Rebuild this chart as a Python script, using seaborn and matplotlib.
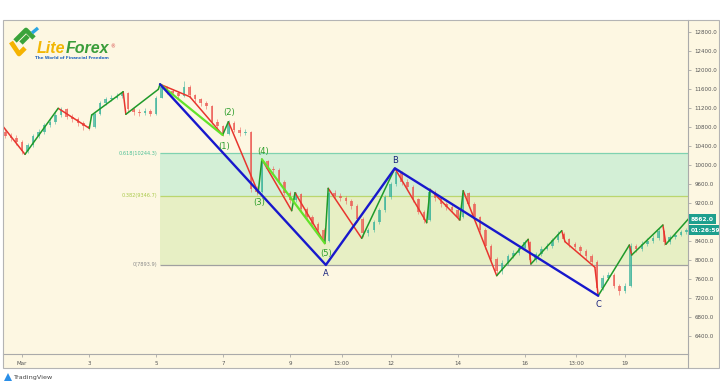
import matplotlib
matplotlib.use("Agg")
import matplotlib.pyplot as plt
from matplotlib.patches import Rectangle, Polygon
import pandas as pd
import seaborn as sns

# ---- data: 4h candles, x in days of March (1 = Mar 1) ----
first_open = 10700
closes = [10620, 10560, 10480, 10300, 10420, 10610, 10700, 10840, 10900, 11060,
          11180, 11020, 10960, 10890, 10820, 10790, 11080, 11300, 11380, 11420,
          11460, 11520, 11180, 11120, 11090, 11140, 11080, 11420, 11640, 11560,
          11520, 11460, 11650, 11480, 11380, 11300, 11240, 10900, 10820, 10660,
          10890, 10740, 10680, 10700, 9500, 9440, 10080, 9920, 9890, 9650,
          9420, 9260, 9380, 9080, 8900, 8760, 8640, 8400, 9420, 9350,
          9300, 9240, 9140, 8860, 8560, 8620, 8800, 9050, 9320, 9600,
          9860, 9640, 9540, 9280, 9020, 8840, 9430, 9300, 9180, 9120,
          9060, 8900, 9420, 9180, 8900, 8640, 8300, 8020, 7760, 7940,
          8080, 8150, 8260, 8380, 8000, 8120, 8240, 8300, 8420, 8540,
          8440, 8330, 8280, 8180, 8080, 7960, 7400, 7620, 7680, 7460,
          7340, 7460, 8300, 8220, 8340, 8400, 8460, 8600, 8380, 8480,
          8520, 8580, 8620]
highs = [10760, 10680, 10640, 10520, 10470, 10650, 10760, 10880, 10980, 11110,
         11230, 11210, 11070, 11000, 10930, 10870, 11120, 11350, 11440, 11480,
         11520, 11560, 11540, 11220, 11170, 11190, 11180, 11460, 11700, 11670,
         11600, 11560, 11760, 11680, 11500, 11420, 11340, 11260, 10960, 10850,
         10940, 10920, 10790, 10760, 10720, 9560, 10120, 10110, 9980, 9930,
         9690, 9460, 9430, 9400, 9120, 8950, 8800, 8680, 9500, 9480,
         9400, 9340, 9280, 9170, 8900, 8680, 8850, 9100, 9370, 9650,
         9930, 9880, 9700, 9570, 9310, 9060, 9480, 9470, 9340, 9230,
         9170, 9100, 9470, 9440, 9210, 8930, 8670, 8340, 8060, 7990,
         8130, 8210, 8310, 8430, 8400, 8170, 8290, 8360, 8470, 8600,
         8580, 8470, 8380, 8320, 8220, 8120, 7990, 7680, 7740, 7720,
         7500, 7520, 8360, 8340, 8390, 8460, 8530, 8680, 8640, 8530,
         8580, 8640, 8680]
lows = [10560, 10500, 10420, 10240, 10260, 10380, 10560, 10660, 10800, 10860,
        11020, 10960, 10900, 10830, 10740, 10740, 10770, 11050, 11260, 11340,
        11390, 11420, 11120, 11060, 11040, 11050, 11030, 11060, 11400, 11500,
        11470, 11400, 11440, 11420, 11330, 11240, 11180, 10860, 10760, 10600,
        10630, 10690, 10620, 10630, 9440, 9360, 9420, 9870, 9830, 9600,
        9360, 9200, 9220, 9020, 8840, 8700, 8560, 8340, 8380, 9300,
        9240, 9180, 9080, 8800, 8480, 8500, 8580, 8760, 9010, 9280,
        9560, 9580, 9480, 9220, 8960, 8780, 8820, 9250, 9120, 9060,
        9000, 8840, 8880, 9120, 8840, 8580, 8240, 7960, 7680, 7700,
        7900, 8040, 8110, 8220, 7930, 7960, 8080, 8200, 8260, 8380,
        8390, 8280, 8220, 8120, 8020, 7900, 7300, 7360, 7580, 7400,
        7260, 7300, 7440, 8160, 8180, 8300, 8360, 8420, 8320, 8340,
        8440, 8500, 8540]

# zigzag indicator pivots
zz_days = [0.44, 1.09, 2.08, 3.01, 3.08, 4.02, 4.10, 5.07, 5.12, 6.01, 6.99, 7.16,
           8.05, 8.16, 9.05, 9.15, 10.04, 10.14, 11.14, 12.13, 13.08, 13.18, 14.07,
           14.17, 15.17, 16.11, 16.19, 17.11, 17.21, 18.10, 18.20, 19.13, 19.20,
           20.13, 20.22, 20.89]
zz_prices = [10806, 10224, 11193, 10772, 11052, 11543, 11067, 11593, 11700, 11437,
             10631, 10911, 9416, 10119, 9037, 9416, 8350, 9508, 8455, 9930, 8784,
             9487, 8841, 9458, 7668, 8434, 7914, 8615, 8384, 7845, 7246, 8314,
             8104, 8735, 8329, 8862]

# elliott impulse (1)-(5)
wave_days = [5.12, 6.99, 7.16, 8.05, 8.16, 10.04]
wave_prices = [11700, 10631, 10911, 9416, 10119, 8350]
wave_labels = ["", "(1)", "(2)", "(3)", "(4)", "(5)"]

# correction A-B-C
abc_days = [5.12, 10.07, 12.13, 18.20]
abc_prices = [11700, 7894, 9930, 7246]
abc_labels = ["", "A", "B", "C"]

fib_levels = [0.618, 0.382, 0]
fib_prices = [10244.3, 9346.7, 7893.9]

price_ticks = list(range(6400, 12801, 400))
time_ticks = [1, 3, 5, 7, 9, 10.54, 12, 14, 16, 17.54, 19]
time_labels = ["Mar", "3", "5", "7", "9", "13:00", "12", "14", "16", "13:00", "19"]
last_price = 8862.0
countdown = "01:26:59"

# ---- style ----
CREAM = "#fdf7e2"
UP = "#3bb39c"
DOWN = "#ec5a53"
ZZ_UP = "#1f9a2a"
ZZ_DOWN = "#e8352e"
LIME = "#62e22a"
BLUE = "#1818cc"
XMIN, XMAX = 0.433, 20.88

sns.set_theme(style="white")
plt.rcParams["font.family"] = ["DejaVu Sans"]

fig = plt.figure(figsize=(7.2, 3.84), dpi=100)
fig.patch.set_facecolor("white")
frame = Rectangle((3 / 720, 16 / 384), 716 / 720, 348 / 384, transform=fig.transFigure,
                  fc=CREAM, ec="none", zorder=-5)
fig.patches.append(frame)

ax = fig.add_axes([3 / 720, 30 / 384, 685 / 720, 334 / 384], zorder=1)
ax.set_facecolor(CREAM)
ax.set_xlim(XMIN, XMAX)
ax.set_ylim(6019, 13053)

# fibonacci zones
peak_day = abc_days[0]
ax.fill_between([peak_day, XMAX], fib_prices[1], fib_prices[0], color="#d3efd6", lw=0, zorder=0)
ax.fill_between([peak_day, XMAX], fib_prices[2], fib_prices[1], color="#e7efc4", lw=0, zorder=0)
fib_colors = ["#7fd2b0", "#bad66e", "#a0a0a0"]
fib_text = ["#4cbf95", "#a9c94a", "#8a8a8a"]
for lvl, p, lc, tc in zip(fib_levels, fib_prices, fib_colors, fib_text):
    ax.hlines(p, peak_day, XMAX, color=lc, lw=0.9, zorder=1)
    ax.text(peak_day - 0.08, p, f"{lvl:g}({p:.1f})", ha="right", va="center",
            fontsize=3.6, color=tc)

# candles
n = len(closes)
candles = pd.DataFrame({
    "day": [0.5 + i / 6 for i in range(n)],
    "open": [first_open] + closes[:-1],
    "close": closes,
    "high": highs,
    "low": lows,
})
colors = [UP if c >= o else DOWN for o, c in zip(candles["open"], candles["close"])]
ax.vlines(candles["day"], candles["low"], candles["high"], colors=colors, lw=0.5,
          alpha=0.75, zorder=2)
ax.bar(candles["day"], candles["close"] - candles["open"], bottom=candles["open"],
       width=0.075, color=colors, lw=0, alpha=0.75, zorder=2)

# zigzag
rows = []
for k in range(len(zz_days) - 1):
    d = "up" if zz_prices[k + 1] > zz_prices[k] else "down"
    rows.append((k, zz_days[k], zz_prices[k], d))
    rows.append((k, zz_days[k + 1], zz_prices[k + 1], d))
zz = pd.DataFrame(rows, columns=["seg", "day", "price", "dir"])
sns.lineplot(data=zz, x="day", y="price", hue="dir", units="seg", estimator=None,
             sort=False, palette={"up": ZZ_UP, "down": ZZ_DOWN}, lw=1.1,
             legend=False, ax=ax, zorder=3)

# impulse legs (lime)
for a, b in [(0, 1), (4, 5)]:
    sns.lineplot(x=[wave_days[a], wave_days[b]], y=[wave_prices[a], wave_prices[b]],
                 color=LIME, lw=1.6, sort=False, ax=ax, zorder=3.5)

# ABC (blue)
sns.lineplot(x=abc_days, y=abc_prices, color=BLUE, lw=1.7, sort=False, ax=ax, zorder=4)

wave_dy = [0, -11, 9, -10, 8, -10]
for d, p, lab, dy in zip(wave_days, wave_prices, wave_labels, wave_dy):
    if lab:
        ax.annotate(lab, (d, p), xytext=(1, dy), textcoords="offset pixels",
                    ha="center", va="center", fontsize=6, color="#2a9d2a", zorder=6)
abc_dy = [0, -9, 8, -9]
for d, p, lab, dy in zip(abc_days, abc_prices, abc_labels, abc_dy):
    if lab:
        ax.annotate(lab, (d, p), xytext=(0, dy), textcoords="offset pixels",
                    ha="center", va="center", fontsize=6, color="#1a237e", zorder=6)

# axes (the 8800 label sits under the price tag, as on the original)
ax.set_xticks(time_ticks)
ax.set_xticklabels(time_labels)
ax.yaxis.tick_right()
ax.set_yticks(price_ticks)
ax.set_yticklabels(["" if p == 8800 else f"{p:.1f}" for p in price_ticks])
ax.tick_params(axis="x", length=2, width=0.5, color="#999999", labelsize=4,
               labelcolor="#555555", pad=3, bottom=True)
ax.tick_params(axis="y", length=2.5, width=0.5, color="#999999", labelsize=4,
               labelcolor="#555555", pad=2, right=True)
ax.set_xlabel("")
ax.set_ylabel("")
for s in ["top", "left"]:
    ax.spines[s].set_visible(False)
for s in ["right", "bottom"]:
    ax.spines[s].set_color("#aaaaaa")
    ax.spines[s].set_linewidth(0.8)

# price tags
ytf = ax.get_yaxis_transform()
ax.annotate(f"{last_price:.1f}", (1, last_price), xycoords=ytf, xytext=(3, 0),
            textcoords="offset pixels", ha="left", va="center", fontsize=4.3,
            color="white", weight="bold", annotation_clip=False,
            bbox=dict(boxstyle="square,pad=0.35", fc="#1e9f8e", ec="none"))
ax.annotate(countdown, (1, last_price), xycoords=ytf, xytext=(3, -11),
            textcoords="offset pixels", ha="left", va="center", fontsize=4.3,
            color="white", weight="bold", annotation_clip=False,
            bbox=dict(boxstyle="square,pad=0.35", fc="#1e9f8e", ec="none"))

# overlay: logos and frame (pixel coordinates)
ov = fig.add_axes([0, 0, 1, 1], zorder=5)
ov.set_xlim(0, 720)
ov.set_ylim(384, 0)
ov.axis("off")
ov.patch.set_alpha(0)
ov.add_patch(Rectangle((3, 20), 716, 348, fc="none", ec="#b4b4b4", lw=0.8))
ov.plot([688, 688], [354, 368], color="#aaaaaa", lw=0.8)

ov.plot([11, 19, 25], [42, 54, 48], color="#f5b301", lw=3.4, solid_capstyle="butt")
ov.plot([15, 26, 34], [41, 30, 38], color="#3aa33a", lw=3.4, solid_capstyle="butt")
ov.plot([21, 28], [43, 36], color="#3aa33a", lw=3.4, solid_capstyle="butt")
ov.plot([32, 38], [33, 28], color="#2aa6e2", lw=2.4, solid_capstyle="butt")
t1 = ov.text(37, 53, "Lite", fontsize=11.5, weight="bold", style="italic",
             color="#f2b705", family="Liberation Sans", ha="left", va="baseline")
t2 = ov.annotate("Forex", xy=(1, 0), xycoords=t1, fontsize=11.5, weight="bold",
                 style="italic", color="#3a9d3a", family="Liberation Sans",
                 ha="left", va="bottom")
ov.annotate("®", xy=(1, 1), xycoords=t2, xytext=(1, -3), textcoords="offset pixels",
            fontsize=3.5, color="#d23a3a", ha="left", va="top")
ov.text(35, 58, "The World of Financial Freedom", fontsize=3.0, weight="bold",
        color="#1f63c0", ha="left", va="center")

ov.add_patch(Polygon([[4, 381], [8, 373], [12, 381]], closed=True, fc="#2a8fe8", ec="none"))
ov.text(13, 377, "TradingView", fontsize=4.6, color="#444444", ha="left", va="center")

fig.savefig("out.png", dpi=100, facecolor="white")
